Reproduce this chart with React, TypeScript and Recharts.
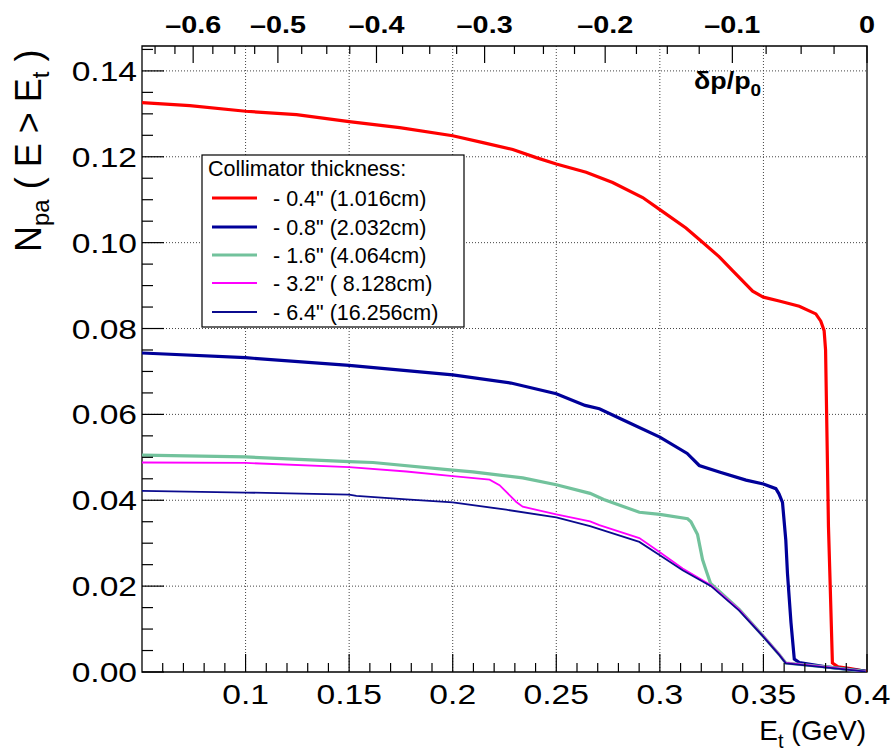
import React from 'react';
import { LineChart, Line, XAxis, YAxis, CartesianGrid, ReferenceArea } from 'recharts';

// ---------- data (E_t in GeV, N_pa(E > E_t)) ----------
const redE = [0.05, 0.0731, 0.1, 0.1246, 0.15, 0.1744, 0.2, 0.2146, 0.229, 0.2403, 0.25, 0.2644, 0.2772, 0.2917, 0.3, 0.3126, 0.3206, 0.3287, 0.3351, 0.3448, 0.35, 0.3576, 0.3673, 0.3753, 0.3777, 0.3793, 0.38, 0.3808, 0.3814, 0.3822, 0.3833, 0.386, 0.392, 0.4];
const redN = [0.1326, 0.1319, 0.1306, 0.1298, 0.1282, 0.1268, 0.1249, 0.1233, 0.1217, 0.1198, 0.1183, 0.1164, 0.114, 0.1105, 0.1077, 0.1034, 0.1001, 0.0967, 0.0935, 0.0887, 0.0873, 0.0864, 0.0852, 0.0834, 0.0817, 0.0795, 0.075, 0.0516, 0.0338, 0.0207, 0.0021, 0.0012, 0.0008, 0.0001];

const navyE = [0.05, 0.1, 0.15, 0.2, 0.2281, 0.25, 0.2639, 0.2708, 0.2818, 0.3, 0.3132, 0.319, 0.3287, 0.3416, 0.35, 0.356, 0.3575, 0.3592, 0.3608, 0.3616, 0.3633, 0.3649, 0.3673, 0.3801, 0.3994];
const navyN = [0.0743, 0.0732, 0.0714, 0.0692, 0.0673, 0.0648, 0.0621, 0.0613, 0.0588, 0.0547, 0.0509, 0.0481, 0.0466, 0.0447, 0.0438, 0.0427, 0.0415, 0.0395, 0.0307, 0.023, 0.0115, 0.003, 0.0022, 0.0012, 0.0002];

const greenE = [0.05, 0.1, 0.15, 0.1615, 0.2, 0.2097, 0.2338, 0.25, 0.2663, 0.2729, 0.2901, 0.3, 0.3134, 0.315, 0.3182, 0.3206, 0.3223, 0.3245, 0.3383, 0.35, 0.3576, 0.3608, 0.3833, 0.3994];
const greenN = [0.0505, 0.0501, 0.049, 0.0488, 0.047, 0.0466, 0.0452, 0.0436, 0.0416, 0.0402, 0.0372, 0.0367, 0.0357, 0.035, 0.032, 0.0262, 0.0237, 0.0206, 0.0146, 0.0083, 0.0041, 0.0021, 0.001, 0.0001];

const magE = [0.05, 0.1, 0.15, 0.1776, 0.2, 0.2178, 0.2226, 0.2274, 0.2307, 0.2338, 0.25, 0.2663, 0.2708, 0.2901, 0.3, 0.311, 0.3247, 0.3383, 0.35, 0.3576, 0.3608, 0.3833, 0.3994];
const magN = [0.0488, 0.0487, 0.0477, 0.0467, 0.0456, 0.0448, 0.0435, 0.0412, 0.0396, 0.0385, 0.0367, 0.0351, 0.0342, 0.0312, 0.0279, 0.0241, 0.0202, 0.0145, 0.0083, 0.0041, 0.0021, 0.001, 0.0001];

const thinE = [0.05, 0.1, 0.15, 0.1535, 0.1776, 0.2, 0.2258, 0.25, 0.2663, 0.2901, 0.3, 0.311, 0.3247, 0.3383, 0.35, 0.3576, 0.3608, 0.3833, 0.3994];
const thinN = [0.0422, 0.0418, 0.0413, 0.041, 0.0402, 0.0395, 0.0378, 0.036, 0.034, 0.0303, 0.0272, 0.0237, 0.02, 0.0143, 0.0082, 0.004, 0.002, 0.0009, 0.0001];

// ---------- axes ----------
const X_DOMAIN = [0.05, 0.4];
const Y_DOMAIN = [0, 0.1458];
const xMajor = [0.1, 0.15, 0.2, 0.25, 0.3, 0.35, 0.4];
const xLabels = ['0.1', '0.15', '0.2', '0.25', '0.3', '0.35', '0.4'];
const xMinor = [0.06, 0.07, 0.08, 0.09, 0.11, 0.12, 0.13, 0.14, 0.16, 0.17, 0.18, 0.19, 0.21, 0.22, 0.23, 0.24, 0.26, 0.27, 0.28, 0.29, 0.31, 0.32, 0.33, 0.34, 0.36, 0.37, 0.38, 0.39];
const yMajor = [0, 0.02, 0.04, 0.06, 0.08, 0.1, 0.12, 0.14];
const yLabels = ['0.00', '0.02', '0.04', '0.06', '0.08', '0.10', '0.12', '0.14'];
const yMinor = [0.005, 0.01, 0.015, 0.025, 0.03, 0.035, 0.045, 0.05, 0.055, 0.065, 0.07, 0.075, 0.085, 0.09, 0.095, 0.105, 0.11, 0.115, 0.125, 0.13, 0.135, 0.145];
// top axis: delta p / p0 (non-linear), positions given in E_t
const topMajorE = [0.0747, 0.1156, 0.1632, 0.2154, 0.2736, 0.335, 0.4];
const topLabels = ['\u20130.6', '\u20130.5', '\u20130.4', '\u20130.3', '\u20130.2', '\u20130.1', '0'];
const topMinorE = [0.0563, 0.0659, 0.0842, 0.0948, 0.1044, 0.1271, 0.1392, 0.1503, 0.1758, 0.1889, 0.2019, 0.2298, 0.2438, 0.2588, 0.2887, 0.3036, 0.319, 0.3513, 0.3682, 0.3841];
const gridX = [0.1, 0.15, 0.2, 0.25, 0.3, 0.35];
const gridY = [0.02, 0.04, 0.06, 0.08, 0.1, 0.12, 0.14];

const legendTitle = 'Collimator thickness:';
const seriesNames = ['- 0.4" (1.016cm)', '- 0.8" (2.032cm)', '- 1.6" (4.064cm)', '- 3.2" ( 8.128cm)', '- 6.4" (16.256cm)'];
const seriesColors = ['#ff0000', '#000099', '#72c29c', '#ff00ff', '#0b0b8e'];
const seriesWidths = [3.2, 3.2, 3.2, 1.8, 1.8];

const toPts = (es: number[], ns: number[]) => es.map((e, i) => ({ e, n: ns[i] }));
const seriesData = [toPts(redE, redN), toPts(navyE, navyN), toPts(greenE, greenN), toPts(magE, magN), toPts(thinE, thinN)];

const FONT = "'Liberation Sans', Arial, Helvetica, sans-serif";
const SX = 1.2;
const W = 896;
const H = 754;

const findIdx = (arr: number[], v: number) => arr.findIndex((m) => Math.abs(m - v) < 1e-9);

function BottomTick(props: any) {
  const { x, y, payload } = props;
  const i = findIdx(xMajor, payload.value);
  const major = i >= 0;
  return (
    <g>
      <line x1={x} x2={x} y1={y} y2={y - (major ? 18 : 9)} stroke="#000" strokeWidth={1.2} />
      {major && (
        <text transform={`translate(${x},${y + 32}) scale(${SX},1)`} textAnchor="middle" fontSize={28} fontFamily={FONT} fill="#000">
          {xLabels[i]}
        </text>
      )}
    </g>
  );
}

function TopTick(props: any) {
  const { x, y, payload } = props;
  const i = findIdx(topMajorE, payload.value);
  const major = i >= 0;
  return (
    <g>
      <line x1={x} x2={x} y1={y} y2={y + (major ? 17 : 8)} stroke="#000" strokeWidth={1.2} />
      {major && (
        <text transform={`translate(${x},${y - 13}) scale(1.2,1)`} textAnchor="middle" fontSize={24} fontWeight="bold" fontFamily={FONT} fill="#000">
          {topLabels[i]}
        </text>
      )}
    </g>
  );
}

function LeftTick(props: any) {
  const { x, y, payload } = props;
  const i = findIdx(yMajor, payload.value);
  const major = i >= 0;
  return (
    <g>
      <line x1={x} x2={x + (major ? 22 : 11)} y1={y} y2={y} stroke="#000" strokeWidth={1.2} />
      {major && (
        <text transform={`translate(${x - 5},${y + 10}) scale(${SX},1)`} textAnchor="end" fontSize={28} fontFamily={FONT} fill="#000">
          {yLabels[i]}
        </text>
      )}
    </g>
  );
}

function Overlay() {
  const lx = 202;
  const ly = 155;
  const rows = [198, 227, 255, 283, 312];
  return (
    <svg width={W} height={H} style={{ position: 'absolute', left: 0, top: 0, pointerEvents: 'none' }}>
      {/* y title */}
      <text transform="translate(41,252) rotate(-90)" fontSize={36} fontFamily={FONT} fill="#000">
        N<tspan fontSize={24} dy={8}>pa</tspan>
        <tspan dy={-8}> ( E &gt; E</tspan>
        <tspan fontSize={24} dy={8}>t</tspan>
        <tspan dy={-8}> )</tspan>
      </text>
      {/* x title */}
      <text x={866} y={740} textAnchor="end" fontSize={28} fontFamily={FONT} fill="#000">
        E<tspan fontSize={20} dy={8}>t</tspan>
        <tspan dy={-8}> (GeV)</tspan>
      </text>
      {/* top axis title */}
      <text transform="translate(694,89) scale(1.12,1)" fontSize={24} fontWeight="bold" fontFamily={FONT} fill="#000">
        {'\u03b4p/p'}
        <tspan fontSize={17} dy={7}>0</tspan>
      </text>
      {/* legend */}
      <rect x={lx} y={ly} width={262} height={172} fill="#fff" stroke="#000" strokeWidth={1.2} />
      <text x={208} y={176} fontSize={21.5} fontFamily={FONT} fill="#000">
        {legendTitle}
      </text>
      {seriesNames.map((nm, i) => (
        <g key={nm}>
          <line x1={212} x2={257} y1={rows[i]} y2={rows[i]} stroke={seriesColors[i]} strokeWidth={seriesWidths[i]} />
          <text x={273} y={rows[i] + 8} fontSize={21.5} fontFamily={FONT} fill="#000">
            {nm}
          </text>
        </g>
      ))}
    </svg>
  );
}

export default function App() {
  return (
    <div style={{ position: 'absolute', left: 0, top: 0, width: W, height: H, background: '#fff' }}>
      <LineChart width={W} height={H} margin={{ top: 45, right: 29, bottom: 81, left: 141 }}>
        <CartesianGrid
          verticalValues={gridX}
          horizontalValues={gridY}
          stroke="#444"
          strokeDasharray="1 2"
          fill="none"
        />
        <XAxis
          xAxisId={0}
          type="number"
          dataKey="e"
          domain={X_DOMAIN}
          ticks={[...xMinor, ...xMajor]}
          tick={BottomTick}
          interval={0}
          tickSize={0}
          tickMargin={0}
          tickLine={false}
          axisLine={false}
          height={1}
          allowDataOverflow
        />
        <XAxis
          xAxisId="top"
          orientation="top"
          type="number"
          dataKey="e"
          domain={X_DOMAIN}
          ticks={[...topMinorE, ...topMajorE]}
          tick={TopTick}
          interval={0}
          tickSize={0}
          tickMargin={0}
          tickLine={false}
          axisLine={false}
          height={1}
          allowDataOverflow
        />
        <YAxis
          type="number"
          domain={Y_DOMAIN}
          ticks={[...yMinor, ...yMajor]}
          tick={LeftTick}
          interval={0}
          tickSize={0}
          tickMargin={0}
          tickLine={false}
          axisLine={false}
          width={1}
          allowDataOverflow
        />
        {seriesData.map((d, i) => (
          <Line
            key={seriesNames[i]}
            data={d}
            dataKey="n"
            type="linear"
            stroke={seriesColors[i]}
            strokeWidth={seriesWidths[i]}
            dot={false}
            isAnimationActive={false}
          />
        ))}
        <ReferenceArea x1={0.05} x2={0.4} y1={0} y2={0.1458} fill="none" stroke="#000" strokeWidth={1.3} />
      </LineChart>
      <Overlay />
    </div>
  );
}
